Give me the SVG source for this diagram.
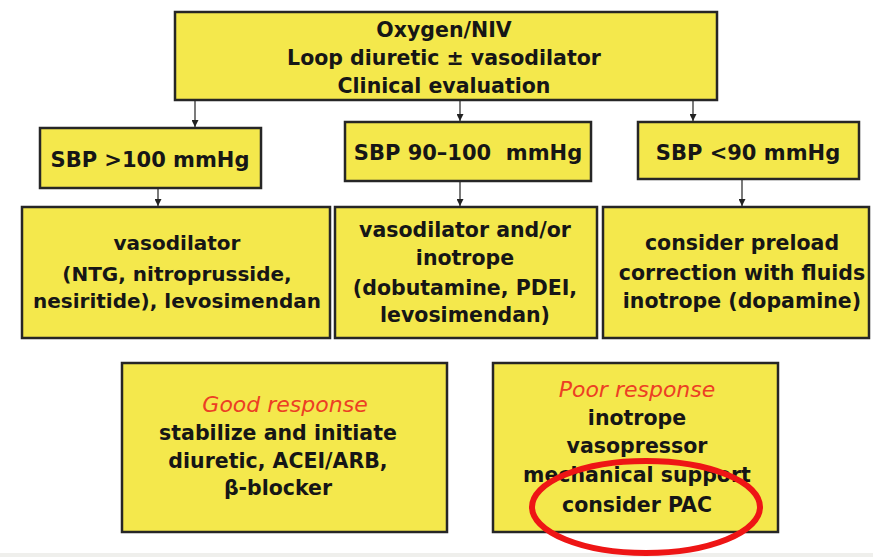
<svg xmlns="http://www.w3.org/2000/svg" width="873" height="557" viewBox="0 0 873 557">
<defs>
<style>
.box{fill:#f4e84c;stroke:#262626;stroke-width:2.5}
.t{font-family:"DejaVu Sans","Liberation Sans",sans-serif;font-size:20.5px;font-weight:bold;fill:#161616;text-anchor:middle}
.s{font-size:21px}
.n{font-size:20px}
.r{fill:#ec3f24;font-style:italic;font-weight:normal;font-size:22px}
.c{stroke:#333;stroke-width:1.3;fill:none;marker-end:url(#ah)}
</style>
<marker id="ah" viewBox="0 0 8 8" refX="8" refY="4" markerWidth="7" markerHeight="7" markerUnits="userSpaceOnUse" orient="auto"><path d="M0,0L8,4L0,8z" fill="#222"/></marker>
</defs>
<rect x="0" y="0" width="873" height="557" fill="#fff"/>
<rect x="0" y="553" width="873" height="4" fill="#efefec"/>
<g id="connectors">
<line class="c" x1="195" y1="101" x2="195" y2="127"/>
<line class="c" x1="460" y1="101" x2="460" y2="121"/>
<line class="c" x1="693" y1="101" x2="693" y2="121"/>
<line class="c" x1="158" y1="189" x2="158" y2="206"/>
<line class="c" x1="460" y1="182" x2="460" y2="206"/>
<line class="c" x1="742" y1="180" x2="742" y2="206"/>
</g>
<g id="top">
<rect class="box" x="175" y="12" width="542" height="88"/>
<text class="t" x="444" y="37">Oxygen/NIV</text>
<text class="t" x="444" y="65">Loop diuretic ± vasodilator</text>
<text class="t" x="444" y="93">Clinical evaluation</text>
</g>
<g id="sbp1">
<rect class="box" x="40" y="128" width="221" height="60"/>
<text class="t s" x="150" y="167">SBP &gt;100 mmHg</text>
</g>
<g id="sbp2">
<rect class="box" x="345" y="122" width="246" height="59"/>
<text class="t s" x="468" y="160" xml:space="preserve">SBP 90–100  mmHg</text>
</g>
<g id="sbp3">
<rect class="box" x="638" y="122" width="221" height="57"/>
<text class="t s" x="748" y="160">SBP &lt;90 mmHg</text>
</g>
<g id="tx1">
<rect class="box" x="22" y="207" width="308" height="131"/>
<text class="t n" x="177" y="250">vasodilator</text>
<text class="t n" x="177" y="281">(NTG, nitroprusside,</text>
<text class="t n" x="177" y="308">nesiritide), levosimendan</text>
</g>
<g id="tx2">
<rect class="box" x="335" y="207" width="262" height="131"/>
<text class="t" x="465" y="237">vasodilator and/or</text>
<text class="t" x="465" y="265">inotrope</text>
<text class="t" x="465" y="295">(dobutamine, PDEI,</text>
<text class="t" x="465" y="322">levosimendan)</text>
</g>
<g id="tx3">
<rect class="box" x="603" y="207" width="266" height="131"/>
<text class="t" x="742" y="250">consider preload</text>
<text class="t" x="742" y="280">correction with fluids</text>
<text class="t" x="742" y="308">inotrope (dopamine)</text>
</g>
<g id="good">
<rect class="box" x="122" y="363" width="325" height="169"/>
<text class="t r" x="285" y="412">Good response</text>
<text class="t" x="278" y="440">stabilize and initiate</text>
<text class="t" x="278" y="468">diuretic, ACEI/ARB,</text>
<text class="t" x="278" y="495">β-blocker</text>
</g>
<g id="poor">
<rect class="box" x="493" y="363" width="285" height="169"/>
<text class="t r" x="637" y="397">Poor response</text>
<text class="t" x="637" y="425">inotrope</text>
<text class="t" x="637" y="453">vasopressor</text>
<text class="t" x="637" y="482">mechanical support</text>
<text class="t" x="637" y="512">consider PAC</text>
</g>
<ellipse cx="646" cy="507" rx="114" ry="46" fill="none" stroke="#ee1515" stroke-width="6"/>
</svg>
